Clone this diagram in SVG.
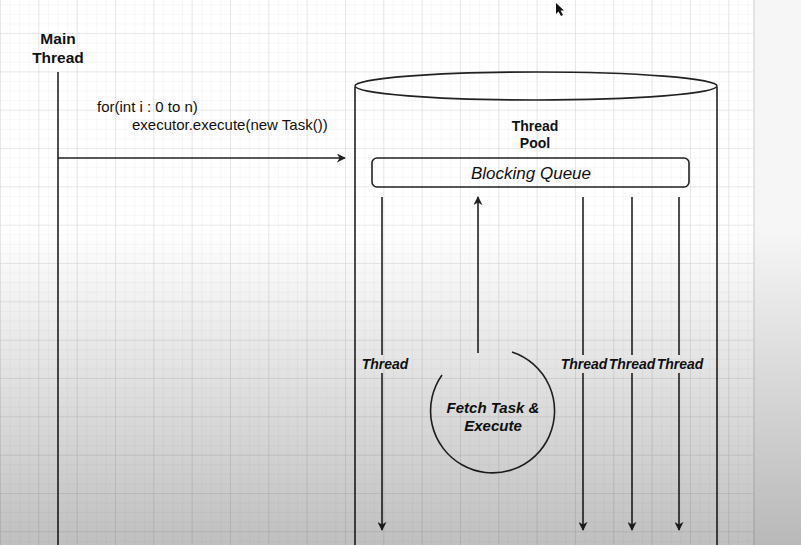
<svg xmlns="http://www.w3.org/2000/svg" width="801" height="545" viewBox="0 0 801 545">
<defs>
<pattern id="minor" width="9.583" height="9.583" patternUnits="userSpaceOnUse" x="0" y="-5.3">
<path d="M0 0H9.583M0 0V9.583" fill="none" stroke="#efefef" stroke-width="1"/>
</pattern>
<pattern id="major" width="38.33" height="38.33" patternUnits="userSpaceOnUse" x="0" y="-5.3">
<path d="M0 0H38.33M0 0V38.33" fill="none" stroke="#dcdcdc" stroke-width="1.2"/>
</pattern>
<linearGradient id="shade" x1="0" y1="0" x2="0" y2="1">
<stop offset="0" stop-color="#000" stop-opacity="0"/>
<stop offset="0.42" stop-color="#000" stop-opacity="0"/>
<stop offset="1" stop-color="#000" stop-opacity="0.25"/>
</linearGradient>
<marker id="arr" viewBox="0 0 10 10" refX="9" refY="5" markerWidth="9" markerHeight="9" markerUnits="userSpaceOnUse" orient="auto">
<path d="M0 0L10 5L0 10L3 5Z" fill="#222"/>
</marker>
</defs>
<style>
.ln{stroke:#222;stroke-width:1.6;fill:none}
.b{font-family:"Liberation Sans",Arial,sans-serif;font-weight:bold;font-size:15.5px;fill:#111;text-anchor:middle}
.t{font-family:"Liberation Sans",Arial,sans-serif;font-size:15px;fill:#111}
.th{font-family:"Liberation Sans",Arial,sans-serif;font-weight:bold;font-style:italic;font-size:14px;fill:#111;text-anchor:middle}
</style>
<rect width="801" height="545" fill="#ffffff"/>
<rect width="754" height="545" fill="url(#minor)"/>
<rect width="754" height="545" fill="url(#major)"/>
<rect x="754" y="0" width="47" height="545" fill="#f6f6f6"/>
<line x1="754" y1="0" x2="754" y2="545" stroke="#dcdcdc" stroke-width="1.5"/>

<g id="main-thread">
<text class="b" x="58" y="44">Main</text>
<text class="b" x="58" y="63">Thread</text>
<line class="ln" x1="58" y1="72" x2="58" y2="545"/>
</g>

<g id="loop-label">
<text class="t" x="97" y="112">for(int i : 0 to n)</text>
<text class="t" x="132" y="130">executor.execute(new Task())</text>
</g>

<g id="thread-pool">
<path class="ln" d="M355 87V545M717 87V545" />
<ellipse class="ln" cx="536" cy="86" rx="181" ry="14" fill="#fff"/>
<text class="b" x="535" y="131" style="font-size:14px">Thread</text>
<text class="b" x="535" y="148" style="font-size:14px">Pool</text>
</g>

<g id="blocking-queue">
<rect class="ln" x="372" y="158" width="317" height="29" rx="5" fill="#fff"/>
<text x="531" y="178.5" style="font-family:'Liberation Sans',Arial,sans-serif;font-style:italic;font-size:17px;fill:#111;text-anchor:middle">Blocking Queue</text>
</g>

<g id="fetch-execute">
<path class="ln" d="M512 352A62 62 0 1 1 442 375"/>
<text class="th" x="493" y="413" style="font-size:15px">Fetch Task &amp;</text>
<text class="th" x="493" y="431" style="font-size:15px">Execute</text>
</g>

<g id="connectors">
<line class="ln" x1="58" y1="158" x2="345" y2="158" marker-end="url(#arr)"/>
<line class="ln" x1="478" y1="353" x2="478" y2="197" marker-end="url(#arr)"/>
<line class="ln" x1="382" y1="197" x2="382" y2="355"/>
<line class="ln" x1="382" y1="373" x2="382" y2="530" marker-end="url(#arr)"/>
<line class="ln" x1="583" y1="197" x2="583" y2="355"/>
<line class="ln" x1="583" y1="373" x2="583" y2="530" marker-end="url(#arr)"/>
<line class="ln" x1="632" y1="197" x2="632" y2="355"/>
<line class="ln" x1="632" y1="373" x2="632" y2="530" marker-end="url(#arr)"/>
<line class="ln" x1="679" y1="197" x2="679" y2="355"/>
<line class="ln" x1="679" y1="373" x2="679" y2="530" marker-end="url(#arr)"/>
<text class="th" x="385" y="369">Thread</text>
<text class="th" x="584" y="369">Thread</text>
<text class="th" x="632" y="369">Thread</text>
<text class="th" x="680" y="369">Thread</text>
</g>

<polygon points="556,3 556,14 558.5,11.5 561,16 563,15 560.5,10.5 564,10.5" fill="#111"/>
<rect width="801" height="545" fill="url(#shade)"/>
</svg>
